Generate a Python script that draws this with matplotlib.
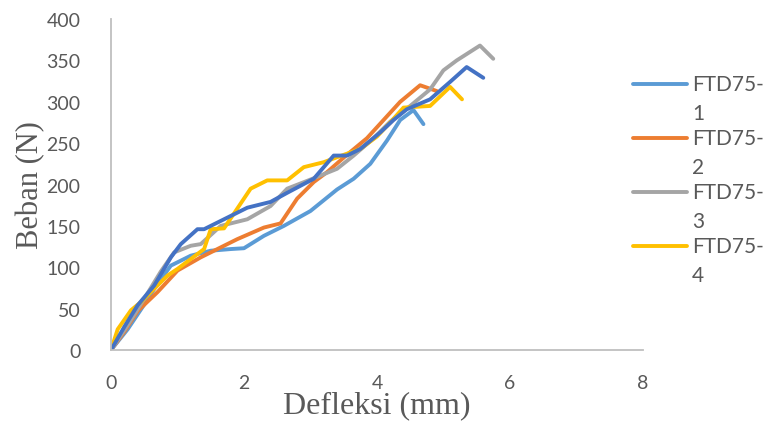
import matplotlib

matplotlib.use("Agg")
import matplotlib.pyplot as plt
from matplotlib.lines import Line2D

# load-deflection readings, one pair of lists per specimen
x1 = [0, 0.25, 0.5, 0.7, 0.9, 1.2, 1.5, 1.8, 2.0, 2.3, 2.6, 3.0, 3.4, 3.65, 3.9, 4.15, 4.35, 4.55, 4.7]
y1 = [0, 25, 55, 80, 102, 114, 120, 122, 123, 138, 150, 168, 194, 207, 225, 253, 278, 290, 273]

x2 = [0, 0.2, 0.4, 0.7, 1.0, 1.35, 1.6, 1.9, 2.3, 2.55, 2.8, 3.05, 3.25, 3.55, 3.85, 4.1, 4.35, 4.65, 4.9]
y2 = [0, 22, 47, 70, 96, 112, 122, 134, 148, 153, 183, 203, 215, 236, 256, 278, 300, 320, 313]

x3 = [0, 0.25, 0.5, 0.75, 0.95, 1.2, 1.35, 1.65, 2.05, 2.4, 2.65, 3.0, 3.4, 3.65, 3.95, 4.2, 4.5,
      4.8, 5.0, 5.2, 5.55, 5.75]
y3 = [0, 30, 62, 95, 118, 126, 128, 150, 158, 174, 195, 206, 219, 235, 256, 276, 295, 315, 338,
      350, 368, 352]

x4 = [0, 0.1, 0.3, 0.45, 0.7, 0.85, 1.0, 1.4, 1.5, 1.7, 2.1, 2.35, 2.65, 2.9, 3.2, 3.4, 3.75, 4.0,
      4.2, 4.4, 4.8, 5.1, 5.28]
y4 = [0, 25, 48, 58, 78, 90, 98, 122, 146, 147, 195, 205, 205, 221, 227, 233, 243, 258, 275, 293,
      295, 318, 303]

x5 = [0, 0.2, 0.4, 0.65, 0.9, 1.05, 1.3, 1.4, 1.7, 2.05, 2.4, 2.65, 3.05, 3.35, 3.55, 3.75, 4.05,
      4.25, 4.45, 4.8, 5.1, 5.35, 5.6]
y5 = [0, 28, 54, 78, 112, 128, 146, 146, 158, 172, 179, 190, 207, 235, 235, 243, 263, 278, 291,
      303, 324, 342, 329]

labels = ["FTD75-1", "FTD75-2", "FTD75-3", "FTD75-4"]
colors = ["#5B9BD5", "#ED7D31", "#A5A5A5", "#FFC000", "#4472C4"]

TXT = "#595959"
AX = "#BFBFBF"

fig = plt.figure(figsize=(7.63, 4.27), dpi=100)
ax = fig.add_axes([0.1455, 0.178, 0.697, 0.775])

series = [(x1, y1), (x2, y2), (x3, y3), (x4, y4), (x5, y5)]
for (xs, ys), c in zip(series, colors):
    ax.plot(xs, ys, color=c, lw=2.8, solid_joinstyle="round", solid_capstyle="round")

ax.set_xlim(0, 8)
ax.set_ylim(0, 400)
ax.set_xticks(range(0, 9, 2))
ax.set_yticks(range(0, 401, 50))
for s in ("top", "right"):
    ax.spines[s].set_visible(False)
for s in ("left", "bottom"):
    ax.spines[s].set_color(AX)
    ax.spines[s].set_linewidth(1.3)
ax.tick_params(length=0, labelsize=14, labelcolor=TXT)
ax.tick_params(axis="y", pad=22)
ax.tick_params(axis="x", pad=17)
for t in ax.get_xticklabels() + ax.get_yticklabels():
    t.set_fontfamily("Lato")

ax.set_xlabel("Defleksi (mm)", family="Liberation Serif", fontsize=23, color=TXT, labelpad=0)
ax.set_ylabel("Beban (N)", family="Liberation Serif", fontsize=22, color=TXT)
ax.yaxis.set_label_coords(-0.123, 0.5)

# legend on the right; each name wraps after the dash
top_y = 1 - 85 / 427
step = 54 / 427
wrap = 29.5 / 427
for i, (lab, c) in enumerate(zip(labels, colors)):
    yy = top_y - i * step
    fig.add_artist(Line2D([633 / 763, 687 / 763], [yy, yy], transform=fig.transFigure,
                          color=c, lw=2.8, solid_capstyle="round"))
    head, tail = lab[:-1], lab[-1:]
    fig.text(692 / 763, yy, head, va="center", ha="left", family="Lato", fontsize=15, color=TXT)
    fig.text(692 / 763, yy - wrap, tail, va="center", ha="left", family="Lato", fontsize=15,
             color=TXT)

fig.savefig("out.png", dpi=100)
